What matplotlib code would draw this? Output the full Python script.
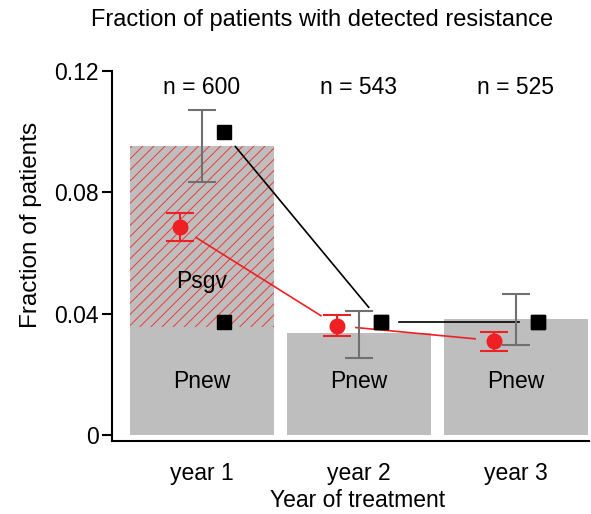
import numpy as np
import matplotlib
matplotlib.use('Agg')
import matplotlib.pyplot as plt

plt.rcParams.update({
    'font.family': ['Liberation Sans', 'DejaVu Sans'],
    'font.size': 16.5,
    'hatch.linewidth': 0.7,
})

RED = '#ee2024'
GREYBAR = '#bebebe'
GREYERR = '#707070'

# ---- data ----
years = ['year 1', 'year 2', 'year 3']
n_patients = [600, 543, 525]
p_new = [0.0357, 0.0337, 0.0383]          # grey part of bar
p_sgv = [0.0595, 0.0, 0.0]                # hatched part (year 1 only)
obs_lo = [0.0833, 0.0255, 0.0298]         # grey error bars
obs_hi = [0.1071, 0.0410, 0.0466]
red_mean = [0.0684, 0.0360, 0.0311]
red_lo = [0.0638, 0.0327, 0.0278]
red_hi = [0.0731, 0.0397, 0.0341]
model_total = [0.0998, 0.0374, 0.0374]    # black squares
model_new = [0.0374, 0.0374, 0.0374]

W, H = 591, 514
fig = plt.figure(figsize=(W / 100, H / 100), dpi=100)
ax = fig.add_axes([112.5 / W, 1 - 441 / H, (589 - 112.5) / W, (441 - 71) / H])
ax.set_xlim(0.43, 3.465)
ax.set_ylim(-0.002, 0.12)

x = np.arange(1, len(years) + 1)
bw = 0.917
ax.bar(x, p_new, width=bw, color=GREYBAR, linewidth=0, zorder=1)
ax.bar(x, p_sgv, bottom=p_new, width=bw, color=GREYBAR, edgecolor='#f03a3a',
       hatch='///', linewidth=0, zorder=1)

for i in range(len(years)):
    if p_sgv[i] > 0:
        ax.text(x[i], 0.0506, 'Psgv', ha='center', va='center', zorder=2)
    ax.text(x[i], 0.0175, 'Pnew', ha='center', va='center', zorder=2)
    ax.text(x[i], 0.1147, f'n = {n_patients[i]}', ha='center', va='center')

off_r, off_b = -0.14, 0.137


def gapped(ax, xs, ys, gap, **kw):
    # connect points but leave a gap of `gap` px at each end
    pts = ax.transData.transform(np.column_stack([xs, ys]))
    for p0, p1 in zip(pts[:-1], pts[1:]):
        d = p1 - p0
        u = d / np.hypot(*d)
        a, b = p0 + u * gap, p1 - u * gap
        seg = ax.transData.inverted().transform(np.vstack([a, b]))
        ax.plot(seg[:, 0], seg[:, 1], **kw)


gapped(ax, x + off_r, red_mean, 19, color=RED, lw=1.2, zorder=3)
gapped(ax, x + off_b, model_total, 18.5, color='black', lw=1.2, zorder=3)

ym = (np.array(obs_lo) + np.array(obs_hi)) / 2
ax.errorbar(x, ym, yerr=[ym - np.array(obs_lo), np.array(obs_hi) - ym], fmt='none',
            ecolor=GREYERR, elinewidth=1.5, capsize=10, capthick=1.5, zorder=4)
rm = np.array(red_mean)
ax.errorbar(x + off_r, rm, yerr=[rm - np.array(red_lo), np.array(red_hi) - rm], fmt='o',
            color=RED, ms=10.5, elinewidth=1.5, capsize=10, capthick=1.5, zorder=5)
ax.plot(x + off_b, model_total, 's', color='black', ms=10.5, zorder=6)
ax.plot(x + off_b, model_new, 's', color='black', ms=10.5, zorder=6)

for s in ['top', 'right']:
    ax.spines[s].set_visible(False)
for s in ['left', 'bottom']:
    ax.spines[s].set_linewidth(1.5)
ax.set_yticks([0, 0.04, 0.08, 0.12])
ax.set_yticklabels(['0', '0.04', '0.08', '0.12'])
ax.set_xticks(x)
ax.set_xticklabels(years)
ax.tick_params(axis='y', length=7, width=1.5, pad=3)
ax.tick_params(axis='x', length=0, pad=15)
ax.set_ylabel('Fraction of patients', fontsize=17.5)
ax.yaxis.set_label_coords((42 - 112.5) / 476.5, (441 - 225) / 370)
ax.set_xlabel('Year of treatment')
ax.xaxis.set_label_coords((358 - 112.5) / 476.5, -(489 - 441) / 370)
fig.text(322 / W, 1 - 20 / H, 'Fraction of patients with detected resistance',
         ha='center', va='center', fontsize=17)

fig.savefig('out.png', dpi=100)
